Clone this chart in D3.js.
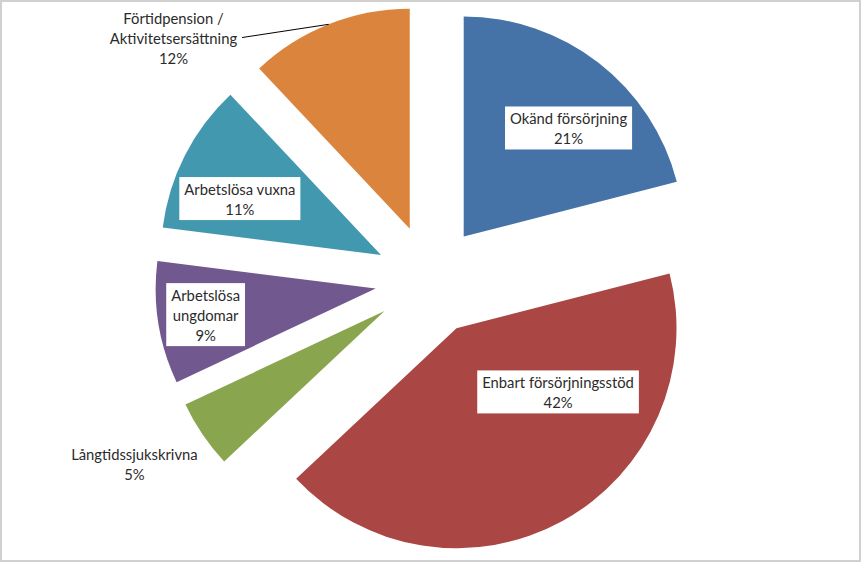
<!DOCTYPE html>
<html><head><meta charset="utf-8">
<script src="https://cdn.jsdelivr.net/npm/d3@7/dist/d3.min.js"></script>
<style>html,body{margin:0;padding:0;background:#fff;} svg{display:block;}</style>
</head><body>
<svg id="chart" width="862" height="564"></svg>
<script>
const categories = ["Okänd försörjning","Enbart försörjningsstöd","Långtidssjukskrivna","Arbetslösa ungdomar","Arbetslösa vuxna","Förtidpension / Aktivitetsersättning"];
const values = [21, 42, 5, 9, 11, 12];
const colors = ["#4572A7","#AA4643","#89A54E","#71588F","#4198AF","#DB843D"];
const labelLines = [["Okänd försörjning"],["Enbart försörjningsstöd"],["Långtidssjukskrivna"],["Arbetslösa","ungdomar"],["Arbetslösa vuxna"],["Förtidpension /","Aktivitetsersättning"]];
// label placement: angle (deg, clockwise from top) and distance as fraction of radius, boxed or not
const labelAngle = [44, 122.1, 238.6, 261.3, 291.8, 309];
const labelDist = [0.686, 0.545, 1.332, 0.782, 0.691, 1.382];
const labelBoxed = [true, true, false, true, true, false];

const W = 862, H = 564;
const cx = 430, cy = 280, R = 220, explode = 55;
const svg = d3.select("#chart");
svg.append("rect").attr("x",1).attr("y",1).attr("width",W-3).attr("height",H-4)
  .attr("fill","#fff").attr("stroke","#d0d0d0").attr("stroke-width",2);

const total = d3.sum(values);
const pie = d3.pie().sort(null).value(d=>d)(values);
const arc = d3.arc().innerRadius(0).outerRadius(R);
const g = svg.append("g").attr("transform",`translate(${cx},${cy})`);

const font = "Lato, 'Open Sans', sans-serif";
pie.forEach((p,i)=>{
  const mid = (p.startAngle+p.endAngle)/2;
  const ox = explode*Math.sin(mid), oy = -explode*Math.cos(mid);
  const sg = g.append("g").attr("transform",`translate(${ox},${oy})`);
  sg.append("path").attr("d",arc(p)).attr("fill",colors[i]);
});

pie.forEach((p,i)=>{
  const mid = (p.startAngle+p.endAngle)/2;
  const ox = explode*Math.sin(mid), oy = -explode*Math.cos(mid);
  const a = labelAngle[i]*Math.PI/180, r = labelDist[i]*R;
  const lx = ox + r*Math.sin(a), ly = oy - r*Math.cos(a);
  const lines = labelLines[i].concat([Math.round(values[i]/total*100)+"%"]);
  const lg = g.append("g");
  const n = lines.length, lh = 20;
  const box = lg.append("rect").attr("fill","#fff");
  const texts = lines.map((t,k)=> lg.append("text")
      .attr("x",lx).attr("y",ly + (k-(n-1)/2)*lh)
      .attr("text-anchor","middle").attr("dominant-baseline","central")
      .attr("font-family",font).attr("font-size",14.8).attr("fill","#2b2b2b").text(t));
  const wmax = d3.max(texts, t=>t.node().getComputedTextLength());
  if (labelBoxed[i]) {
    box.attr("x",lx-wmax/2-5).attr("y",ly-(n*lh+3)/2).attr("width",wmax+10).attr("height",n*lh+3);
  } else box.remove();
  if (i===5) {
    // leader line from label (second line) to outer arc at slice mid-angle
    const sx = lx + wmax/2 + 5, sy = ly;
    const ex = ox + R*Math.sin(mid), ey = oy - R*Math.cos(mid);
    lg.append("line").attr("x1",sx).attr("y1",sy).attr("x2",ex).attr("y2",ey)
      .attr("stroke","#000").attr("stroke-width",1);
  }
});
</script>
</body></html>
